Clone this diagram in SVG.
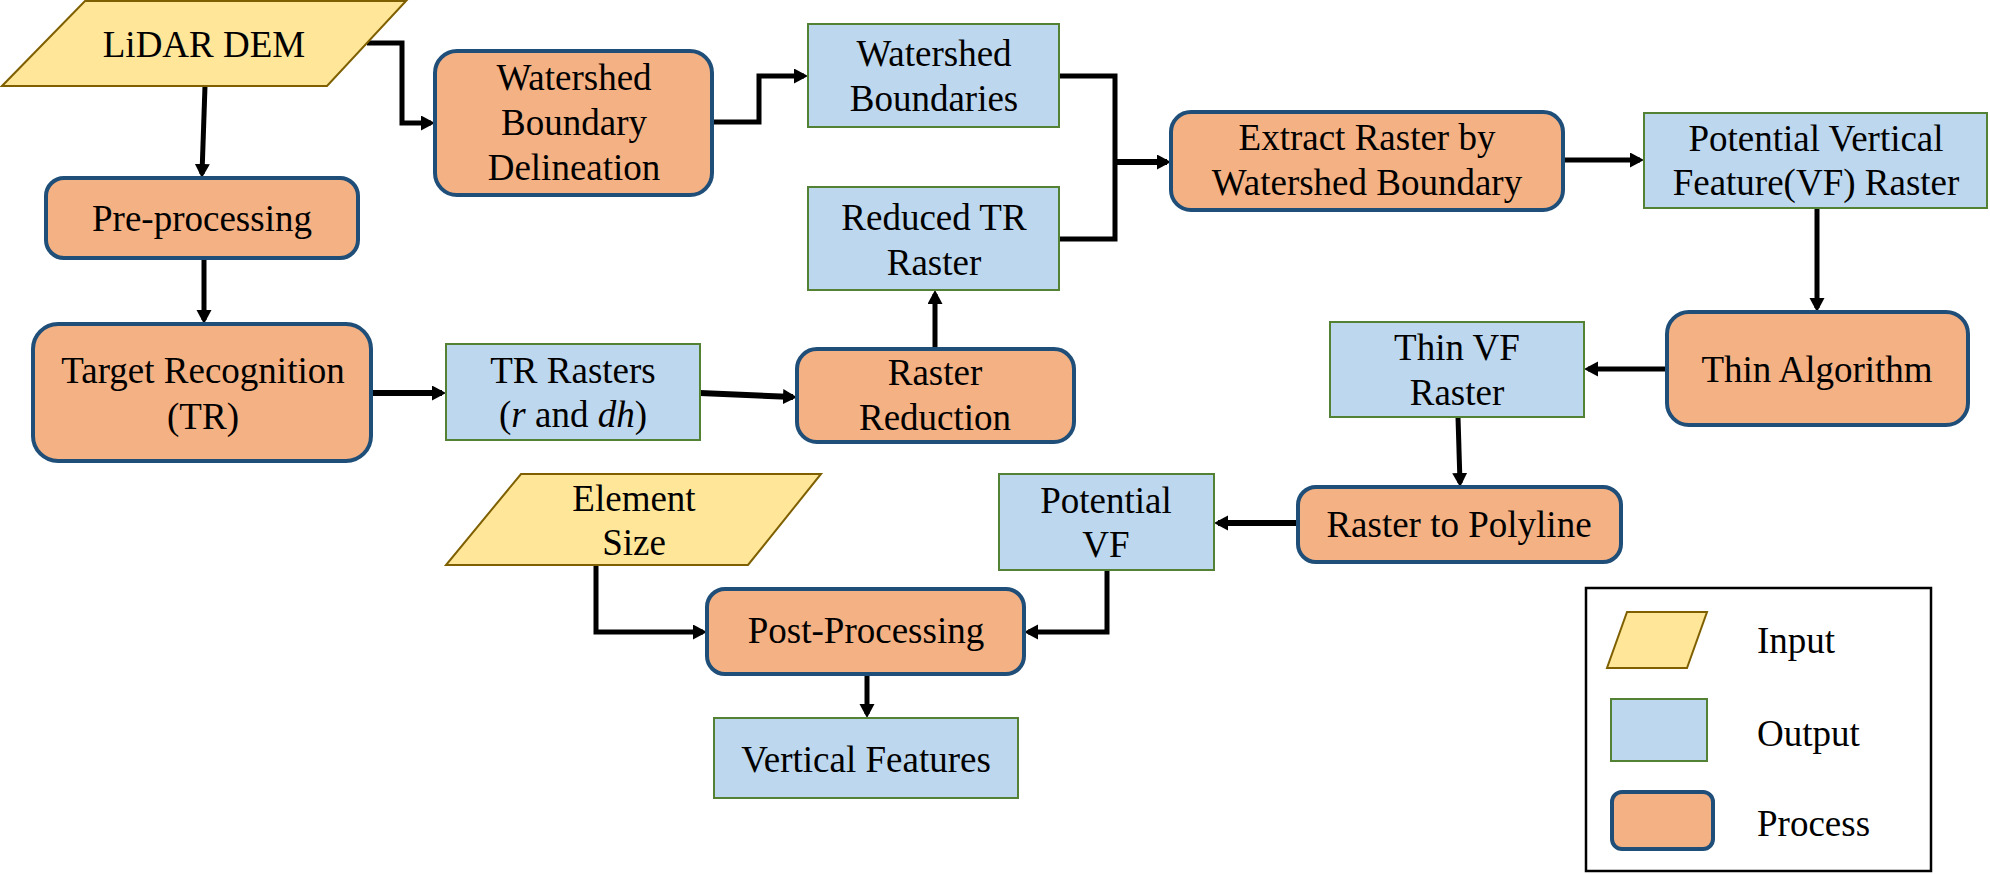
<svg xmlns="http://www.w3.org/2000/svg" width="1990" height="874" viewBox="0 0 1990 874">
<style>
text{font-family:"Liberation Serif","Times New Roman",serif;font-size:37px;fill:#000}
.t{text-anchor:middle}
.proc{fill:#F4B183;stroke:#1F4E79;stroke-width:4}
.out{fill:#BDD7EE;stroke:#548235;stroke-width:2}
.inp{fill:#FFE699;stroke:#7F6000;stroke-width:2}
.c{fill:none;stroke:#000;stroke-width:5;stroke-linejoin:miter}
.c6{fill:none;stroke:#000;stroke-width:6;stroke-linejoin:miter}
</style>
<defs>
<marker id="ah" markerUnits="userSpaceOnUse" markerWidth="16" markerHeight="16" refX="10" refY="7.5" orient="auto" viewBox="0 0 16 16">
<path d="M0,0 L14,7.5 L0,15 z" fill="#000"/>
</marker>
</defs>
<rect width="1990" height="874" fill="#fff"/>

<g id="connectors">
<line class="c" x1="205" y1="86" x2="202" y2="174" marker-end="url(#ah)"/>
<polyline class="c" points="367,43 402,43 402,123 431,123" marker-end="url(#ah)"/>
<line class="c" x1="204" y1="258" x2="204" y2="320" marker-end="url(#ah)"/>
<polyline class="c" points="712,122 759,122 759,76 804,76" marker-end="url(#ah)"/>
<polyline class="c" points="1059,76 1115,76 1115,239 1059,239"/>
<line class="c6" x1="1115" y1="162" x2="1167" y2="162" marker-end="url(#ah)"/>
<line class="c" x1="1563" y1="160" x2="1640" y2="160" marker-end="url(#ah)"/>
<line class="c" x1="1817" y1="208" x2="1817" y2="308" marker-end="url(#ah)"/>
<line class="c" x1="1667" y1="369" x2="1588" y2="369" marker-end="url(#ah)"/>
<line class="c" x1="1458" y1="417" x2="1460" y2="483" marker-end="url(#ah)"/>
<line class="c6" x1="1298" y1="523" x2="1218" y2="523" marker-end="url(#ah)"/>
<line class="c6" x1="371" y1="393" x2="442" y2="393" marker-end="url(#ah)"/>
<line class="c6" x1="700" y1="393" x2="793" y2="397" marker-end="url(#ah)"/>
<line class="c" x1="935" y1="349" x2="935" y2="294" marker-end="url(#ah)"/>
<polyline class="c" points="596,565 596,632 703,632" marker-end="url(#ah)"/>
<polyline class="c" points="1107,570 1107,632 1028,632" marker-end="url(#ah)"/>
<line class="c" x1="867" y1="674" x2="867" y2="714" marker-end="url(#ah)"/>
</g>

<g id="lidar-dem">
<polygon class="inp" points="85,1 406,1 327,86 2,86"/>
<text class="t" x="204" y="57">LiDAR DEM</text>
</g>
<g id="watershed-delineation">
<rect class="proc" x="435" y="51" width="277" height="144" rx="22"/>
<text class="t" x="574" y="90">Watershed</text>
<text class="t" x="574" y="135">Boundary</text>
<text class="t" x="574" y="180">Delineation</text>
</g>
<g id="watershed-boundaries">
<rect class="out" x="808" y="24" width="251" height="103"/>
<text class="t" x="934" y="66">Watershed</text>
<text class="t" x="934" y="111">Boundaries</text>
</g>
<g id="pre-processing">
<rect class="proc" x="46" y="178" width="312" height="80" rx="18"/>
<text class="t" x="202" y="231">Pre-processing</text>
</g>
<g id="target-recognition">
<rect class="proc" x="33" y="324" width="338" height="137" rx="25"/>
<text class="t" x="203" y="383">Target Recognition</text>
<text class="t" x="203" y="429">(TR)</text>
</g>
<g id="tr-rasters">
<rect class="out" x="446" y="344" width="254" height="96"/>
<text class="t" x="573" y="383">TR Rasters</text>
<text class="t" x="573" y="427">(<tspan font-style="italic">r</tspan> and <tspan font-style="italic">dh</tspan>)</text>
</g>
<g id="raster-reduction">
<rect class="proc" x="797" y="349" width="277" height="93" rx="20"/>
<text class="t" x="935" y="385">Raster</text>
<text class="t" x="935" y="430">Reduction</text>
</g>
<g id="reduced-tr-raster">
<rect class="out" x="808" y="187" width="251" height="103"/>
<text class="t" x="934" y="230">Reduced TR</text>
<text class="t" x="934" y="275">Raster</text>
</g>
<g id="extract-raster">
<rect class="proc" x="1171" y="112" width="392" height="98" rx="20"/>
<text class="t" x="1367" y="150">Extract Raster by</text>
<text class="t" x="1367" y="195">Watershed Boundary</text>
</g>
<g id="potential-vf-raster">
<rect class="out" x="1644" y="113" width="343" height="95"/>
<text class="t" x="1816" y="151">Potential Vertical</text>
<text class="t" x="1816" y="195">Feature(VF) Raster</text>
</g>
<g id="thin-algorithm">
<rect class="proc" x="1667" y="312" width="301" height="113" rx="22"/>
<text class="t" x="1817" y="382">Thin Algorithm</text>
</g>
<g id="thin-vf-raster">
<rect class="out" x="1330" y="322" width="254" height="95"/>
<text class="t" x="1457" y="360">Thin VF</text>
<text class="t" x="1457" y="405">Raster</text>
</g>
<g id="raster-to-polyline">
<rect class="proc" x="1298" y="487" width="323" height="75" rx="18"/>
<text class="t" x="1459" y="537">Raster to Polyline</text>
</g>
<g id="potential-vf">
<rect class="out" x="999" y="474" width="215" height="96"/>
<text class="t" x="1106" y="513">Potential</text>
<text class="t" x="1106" y="557">VF</text>
</g>
<g id="element-size">
<polygon class="inp" points="521,474 821,474 748,565 446,565"/>
<text class="t" x="634" y="511">Element</text>
<text class="t" x="634" y="555">Size</text>
</g>
<g id="post-processing">
<rect class="proc" x="707" y="589" width="317" height="85" rx="18"/>
<text class="t" x="866" y="643">Post-Processing</text>
</g>
<g id="vertical-features">
<rect class="out" x="714" y="718" width="304" height="80"/>
<text class="t" x="866" y="772">Vertical Features</text>
</g>

<g id="legend">
<rect x="1586" y="588" width="345" height="283" fill="#fff" stroke="#000" stroke-width="2.5"/>
<polygon class="inp" points="1627,612 1707,612 1687,668 1607,668"/>
<rect class="out" x="1611" y="699" width="96" height="62"/>
<rect class="proc" x="1612" y="792" width="101" height="57" rx="10"/>
<text x="1757" y="653">Input</text>
<text x="1757" y="746">Output</text>
<text x="1757" y="836">Process</text>
</g>
</svg>
